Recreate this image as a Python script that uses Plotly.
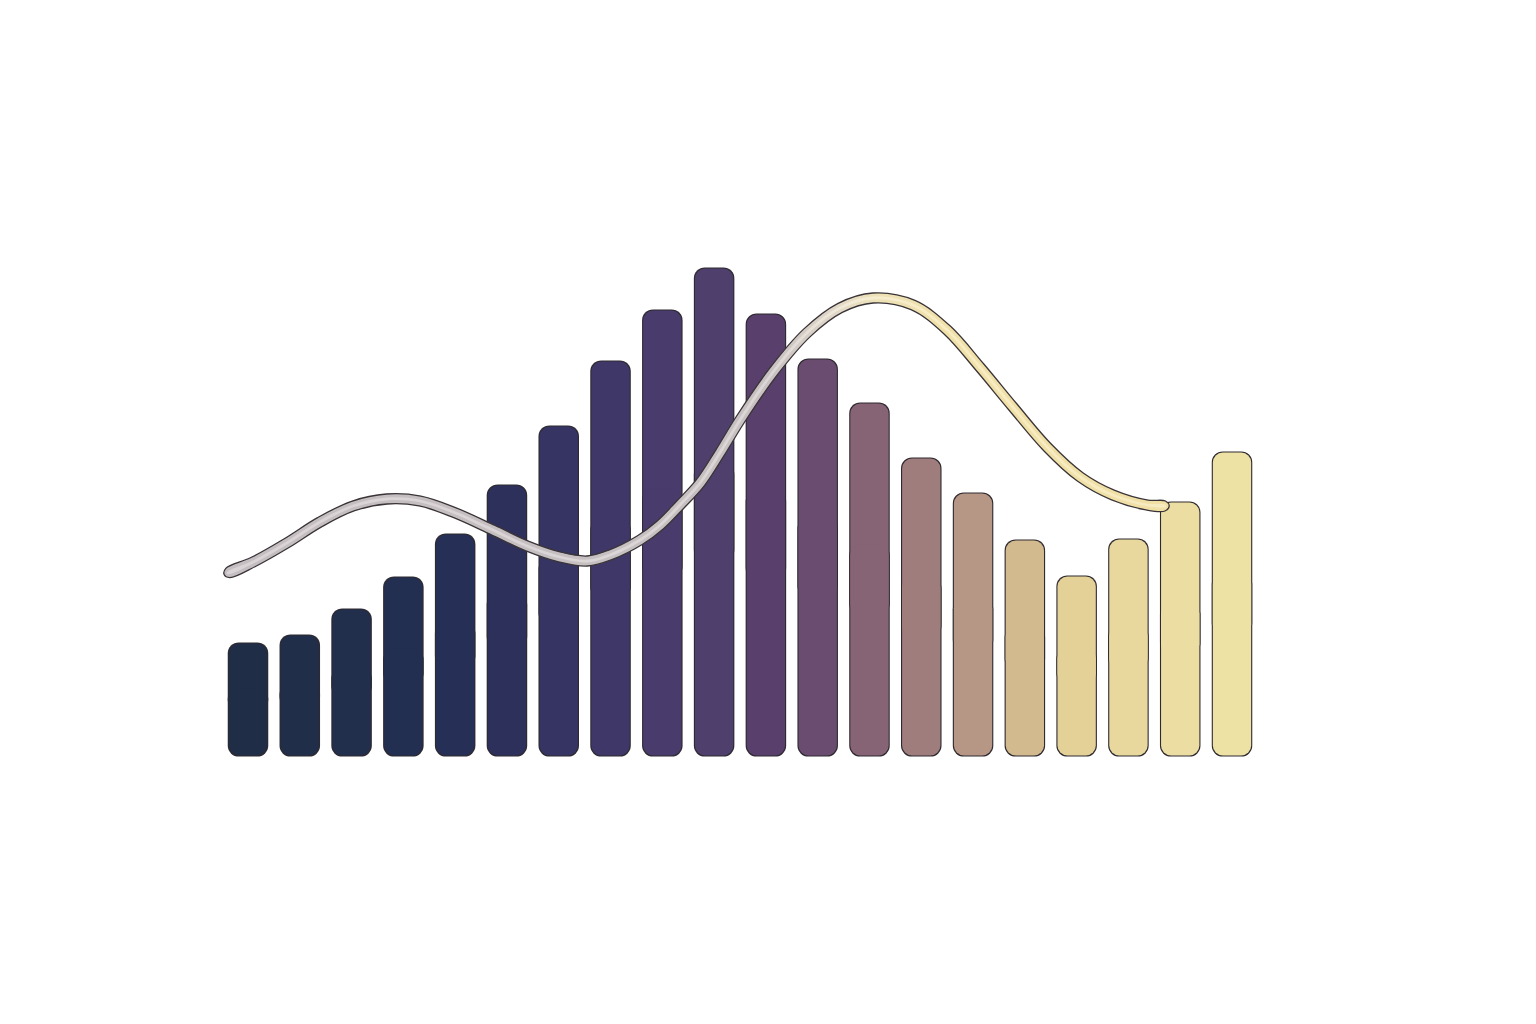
import math
import plotly.graph_objects as go

# ---- data ----
categories = list(range(20))
bar_values = [22.4, 24.0, 29.2, 35.6, 44.2, 54.0, 65.8, 78.8, 89.0, 97.4,
              88.2, 79.2, 70.4, 59.4, 52.4, 43.0, 35.8, 43.2, 50.6, 60.6]
bar_colors = ["#1f2d47", "#202e4a", "#212e4c", "#232f50", "#262f55", "#2c305b",
              "#353462", "#3f3767", "#493b6b", "#4f3f6d", "#583f6c", "#6b4c71",
              "#866375", "#9f7d7c", "#b69684", "#d2b98e", "#e3d198", "#e8d89e",
              "#ecdea2", "#eee1a4"]

line_x = [-0.39, 0.10, 0.75, 1.39, 2.03, 2.68, 3.32, 3.96, 4.73, 5.39, 6.02,
          6.55, 6.99, 7.57, 7.96, 8.34, 8.73, 9.11, 9.50, 10.14, 10.79, 11.43,
          12.07, 12.84, 13.50, 14.13, 14.77, 15.43, 16.07, 16.70, 17.36, 17.71]
line_y = [36.5, 38.7, 42.5, 46.7, 49.9, 51.3, 50.9, 48.7, 45.1, 41.9, 39.7,
          38.9, 40.1, 43.1, 46.1, 50.1, 54.5, 60.5, 67.1, 76.7, 84.5, 89.5,
          91.5, 90.1, 85.1, 77.7, 69.7, 61.7, 55.7, 52.1, 50.1, 49.9]

line_scale = [[0.0, "#c4bdc1"], [0.58, "#c8c1c2"], [0.65, "#e2d9c8"],
              [0.69, "#eee2b8"], [0.76, "#f0e1a9"], [1.0, "#f0e0a4"]]
highlight_scale = [[0.0, "#d9d3d6"], [0.58, "#dcd6d6"], [0.65, "#eee8da"],
                   [0.69, "#f6edce"], [0.76, "#f7ecc4"], [1.0, "#f6eac0"]]

# ---- layout constants ----
PX_PER_CAT = 51.79
PX_PER_UNIT = 5.0
BAR_W = 0.74
OUT_W = BAR_W + 2.2 / PX_PER_CAT
EXT = 1.1 / PX_PER_UNIT
OFF = 8  # page body margin
FIG_W, FIG_H = 1500, 1000
X0_PAGE, Y0_PAGE = 248, 755.5

fig = go.Figure()

def halves(values, width, color, radius, ext):
    lo = [v * 0.4 for v in values]
    hi = [v * 0.6 for v in values]
    fig.add_trace(go.Bar(x=categories, base=lo, y=[v * 0.6 + ext for v in values],
                         width=width, marker=dict(color=color, line=dict(width=0),
                                                  cornerradius=radius),
                         hoverinfo="skip"))
    fig.add_trace(go.Bar(x=categories, base=hi, y=[-(v * 0.6 + ext) for v in values],
                         width=width, marker=dict(color=color, line=dict(width=0),
                                                  cornerradius=radius),
                         hoverinfo="skip"))

halves(bar_values, OUT_W, "#2e2a30", 11, EXT)
halves(bar_values, BAR_W, bar_colors, 10, 0)

def tube(half_px):
    """Closed band around the line (offset in screen pixels) with round caps."""
    px = [X0_PAGE + x * PX_PER_CAT for x in line_x]
    py = [Y0_PAGE - y * PX_PER_UNIT for y in line_y]
    n = len(px)
    up, dn, tans = [], [], []
    for i in range(n):
        j0, j1 = max(i - 1, 0), min(i + 1, n - 1)
        dx, dy = px[j1] - px[j0], py[j1] - py[j0]
        L = math.hypot(dx, dy)
        tx, ty = dx / L, dy / L
        nx, ny = ty, -tx
        tans.append((tx, ty))
        up.append((px[i] + half_px * nx, py[i] + half_px * ny))
        dn.append((px[i] - half_px * nx, py[i] - half_px * ny))
    cap_end = (px[-1] + half_px * 0.8 * tans[-1][0], py[-1] + half_px * 0.8 * tans[-1][1])
    cap_start = (px[0] - half_px * 0.8 * tans[0][0], py[0] - half_px * 0.8 * tans[0][1])
    pts = up + [cap_end] + dn[::-1] + [cap_start, up[0]]
    xs = [(p[0] - X0_PAGE) / PX_PER_CAT for p in pts]
    ys = [(Y0_PAGE - p[1]) / PX_PER_UNIT for p in pts]
    return xs, ys

tx, ty = tube(5.0)
fig.add_trace(go.Scatter(x=tx, y=ty, mode="lines", fill="toself",
                         line=dict(color="#3a3438", width=1.3, shape="spline",
                                   smoothing=1.0),
                         fillgradient=dict(type="horizontal", colorscale=line_scale),
                         hoverinfo="skip"))
hx, hy = tube(1.4)
fig.add_trace(go.Scatter(x=hx, y=hy, mode="lines", fill="toself",
                         line=dict(width=0, shape="spline", smoothing=1.0),
                         fillgradient=dict(type="horizontal", colorscale=highlight_scale),
                         hoverinfo="skip"))

x_lo = (OFF - X0_PAGE) / PX_PER_CAT
x_hi = (OFF + FIG_W - X0_PAGE) / PX_PER_CAT
y_hi = (Y0_PAGE - OFF) / PX_PER_UNIT
y_lo = (Y0_PAGE - (OFF + FIG_H)) / PX_PER_UNIT

fig.update_layout(
    width=FIG_W, height=FIG_H,
    margin=dict(l=0, r=0, t=0, b=0),
    paper_bgcolor="white", plot_bgcolor="white",
    barmode="overlay", showlegend=False,
    xaxis=dict(range=[x_lo, x_hi], visible=False, fixedrange=True),
    yaxis=dict(range=[y_lo, y_hi], visible=False, fixedrange=True),
)

fig.write_html("out.html")
